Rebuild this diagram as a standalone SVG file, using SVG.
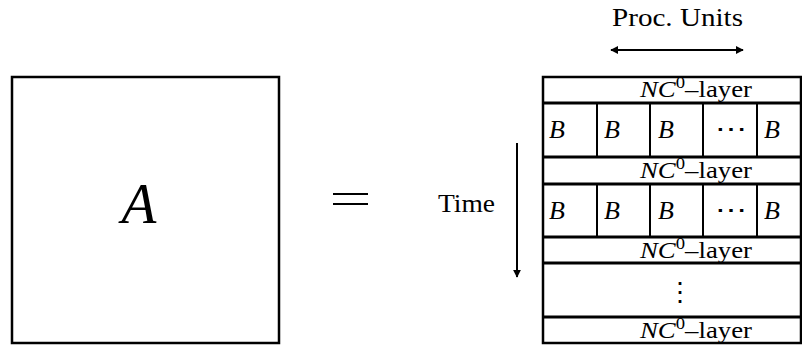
<svg xmlns="http://www.w3.org/2000/svg" width="802" height="345" viewBox="0 0 802 345">
<style>
.box{fill:#fff;stroke:#000;stroke-width:2.5}
.hl{stroke:#000;stroke-width:3}
.vl{stroke:#000;stroke-width:2}
.eq{stroke:#000;stroke-width:2}
text{font-family:'Liberation Serif','DejaVu Serif',serif;fill:#000}
.it{font-style:italic}
.nc{font-size:23px}
.b{font-size:26px;font-style:italic}
.ar{stroke:#000;stroke-width:2;fill:none}
</style>
<defs>
<marker id="ah" viewBox="0 0 10 10" refX="9" refY="5" markerWidth="4" markerHeight="4" orient="auto-start-reverse" markerUnits="strokeWidth">
<path d="M0,0 L10,5 L0,10 Z" fill="#000"/>
</marker>
</defs>
<g id="nodeA">
<rect class="box" x="12" y="77" width="267" height="266"/>
<text class="it" x="139" y="223" font-size="57" text-anchor="middle" font-family="Liberation Serif, serif">A</text>
</g>
<g id="equals">
<line class="eq" x1="333" y1="194" x2="368" y2="194"/>
<line class="eq" x1="333" y1="204" x2="368" y2="204"/>
</g>
<g id="stack">
<rect class="box" x="543" y="77" width="258" height="266"/>
<line class="hl" x1="543" y1="103" x2="801" y2="103"/>
<line class="hl" x1="543" y1="157" x2="801" y2="157"/>
<line class="hl" x1="543" y1="184" x2="801" y2="184"/>
<line class="hl" x1="543" y1="237" x2="801" y2="237"/>
<line class="hl" x1="543" y1="263" x2="801" y2="263"/>
<line class="hl" x1="543" y1="317" x2="801" y2="317"/>
<line class="vl" x1="597" y1="103" x2="597" y2="157"/>
<line class="vl" x1="650" y1="103" x2="650" y2="157"/>
<line class="vl" x1="703" y1="103" x2="703" y2="157"/>
<line class="vl" x1="757" y1="103" x2="757" y2="157"/>
<line class="vl" x1="597" y1="184" x2="597" y2="237"/>
<line class="vl" x1="650" y1="184" x2="650" y2="237"/>
<line class="vl" x1="703" y1="184" x2="703" y2="237"/>
<line class="vl" x1="757" y1="184" x2="757" y2="237"/>
<text class="nc" x="640" y="97" textLength="112" lengthAdjust="spacingAndGlyphs" font-family="Liberation Serif, serif"><tspan font-style="italic">NC</tspan><tspan font-size="16" dy="-9">0</tspan><tspan dy="9">–layer</tspan></text>
<text class="nc" x="640" y="178" textLength="112" lengthAdjust="spacingAndGlyphs" font-family="Liberation Serif, serif"><tspan font-style="italic">NC</tspan><tspan font-size="16" dy="-9">0</tspan><tspan dy="9">–layer</tspan></text>
<text class="nc" x="640" y="258" textLength="112" lengthAdjust="spacingAndGlyphs" font-family="Liberation Serif, serif"><tspan font-style="italic">NC</tspan><tspan font-size="16" dy="-9">0</tspan><tspan dy="9">–layer</tspan></text>
<text class="nc" x="640" y="338" textLength="112" lengthAdjust="spacingAndGlyphs" font-family="Liberation Serif, serif"><tspan font-style="italic">NC</tspan><tspan font-size="16" dy="-9">0</tspan><tspan dy="9">–layer</tspan></text>
<text class="b" x="549" y="138" font-family="Liberation Serif, serif">B</text>
<text class="b" x="604" y="138" font-family="Liberation Serif, serif">B</text>
<text class="b" x="658" y="138" font-family="Liberation Serif, serif">B</text>
<text x="715" y="137" font-size="24" textLength="32" lengthAdjust="spacingAndGlyphs" font-family="DejaVu Serif, serif">⋯</text>
<text class="b" x="764" y="138" font-family="Liberation Serif, serif">B</text>
<text class="b" x="549" y="219" font-family="Liberation Serif, serif">B</text>
<text class="b" x="604" y="219" font-family="Liberation Serif, serif">B</text>
<text class="b" x="658" y="219" font-family="Liberation Serif, serif">B</text>
<text x="715" y="218" font-size="24" textLength="32" lengthAdjust="spacingAndGlyphs" font-family="DejaVu Serif, serif">⋯</text>
<text class="b" x="764" y="219" font-family="Liberation Serif, serif">B</text>
<text x="680" y="301" font-size="26" text-anchor="middle" font-family="DejaVu Serif, serif">⋮</text>
</g>
<g id="labels">
<text x="612" y="26" font-size="25" textLength="131" lengthAdjust="spacingAndGlyphs" font-family="Liberation Serif, serif">Proc. Units</text>
<text x="438" y="212" font-size="25" textLength="57" lengthAdjust="spacingAndGlyphs" font-family="Liberation Serif, serif">Time</text>
</g>
<g id="connectors">
<line class="ar" x1="611" y1="50" x2="743" y2="50" marker-start="url(#ah)" marker-end="url(#ah)"/>
<line class="ar" x1="517" y1="143" x2="517" y2="277" marker-end="url(#ah)"/>
</g>
</svg>
